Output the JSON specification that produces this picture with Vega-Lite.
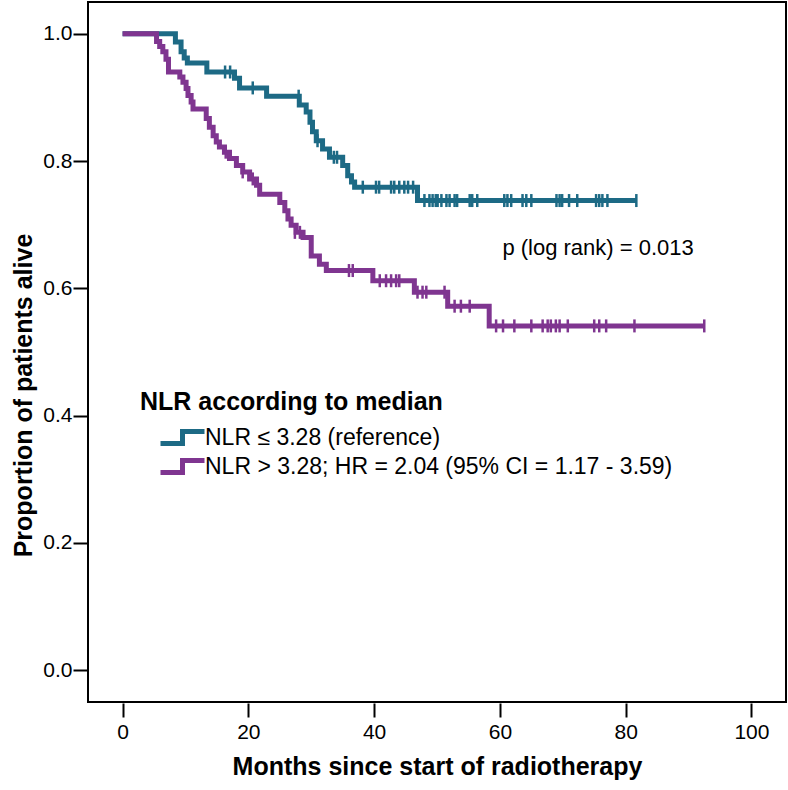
{
  "$schema": "https://vega.github.io/schema/vega-lite/v6.json",
  "width": 698,
  "height": 700,
  "autosize": {"type": "none"},
  "padding": {"left": 88, "top": 2, "right": 2, "bottom": 88},
  "background": "white",
  "config": {
    "font": "Liberation Sans",
    "view": {"stroke": "black", "strokeWidth": 2},
    "axis": {"grid": false, "domain": false, "tickColor": "black", "tickWidth": 2, "labelColor": "black", "titleColor": "black", "labelFont": "Liberation Sans", "titleFont": "Liberation Sans", "labelFontSize": 21, "titleFontSize": 25, "titleFontWeight": "bold"}
  },
  "datasets": {
    "curves": [
      {"group": "NLR ≤ 3.28 (reference)", "month": 0, "surv": 1.0},
      {"group": "NLR ≤ 3.28 (reference)", "month": 8.4, "surv": 0.987},
      {"group": "NLR ≤ 3.28 (reference)", "month": 9.3, "surv": 0.972},
      {"group": "NLR ≤ 3.28 (reference)", "month": 9.8, "surv": 0.962},
      {"group": "NLR ≤ 3.28 (reference)", "month": 10.3, "surv": 0.954},
      {"group": "NLR ≤ 3.28 (reference)", "month": 13.4, "surv": 0.940},
      {"group": "NLR ≤ 3.28 (reference)", "month": 17.8, "surv": 0.930},
      {"group": "NLR ≤ 3.28 (reference)", "month": 18.6, "surv": 0.915},
      {"group": "NLR ≤ 3.28 (reference)", "month": 22.9, "surv": 0.902},
      {"group": "NLR ≤ 3.28 (reference)", "month": 28.1, "surv": 0.888},
      {"group": "NLR ≤ 3.28 (reference)", "month": 29.2, "surv": 0.877},
      {"group": "NLR ≤ 3.28 (reference)", "month": 29.8, "surv": 0.861},
      {"group": "NLR ≤ 3.28 (reference)", "month": 30.2, "surv": 0.846},
      {"group": "NLR ≤ 3.28 (reference)", "month": 30.8, "surv": 0.832},
      {"group": "NLR ≤ 3.28 (reference)", "month": 31.8, "surv": 0.819},
      {"group": "NLR ≤ 3.28 (reference)", "month": 32.9, "surv": 0.806},
      {"group": "NLR ≤ 3.28 (reference)", "month": 35.0, "surv": 0.793},
      {"group": "NLR ≤ 3.28 (reference)", "month": 35.8, "surv": 0.777},
      {"group": "NLR ≤ 3.28 (reference)", "month": 36.4, "surv": 0.767},
      {"group": "NLR ≤ 3.28 (reference)", "month": 36.9, "surv": 0.759},
      {"group": "NLR ≤ 3.28 (reference)", "month": 46.9, "surv": 0.738},
      {"group": "NLR ≤ 3.28 (reference)", "month": 81.7, "surv": 0.738},
      {"group": "NLR > 3.28; HR = 2.04 (95% CI = 1.17 - 3.59)", "month": 0, "surv": 1.0},
      {"group": "NLR > 3.28; HR = 2.04 (95% CI = 1.17 - 3.59)", "month": 5.4, "surv": 0.988},
      {"group": "NLR > 3.28; HR = 2.04 (95% CI = 1.17 - 3.59)", "month": 5.9, "surv": 0.980},
      {"group": "NLR > 3.28; HR = 2.04 (95% CI = 1.17 - 3.59)", "month": 6.4, "surv": 0.972},
      {"group": "NLR > 3.28; HR = 2.04 (95% CI = 1.17 - 3.59)", "month": 6.9, "surv": 0.960},
      {"group": "NLR > 3.28; HR = 2.04 (95% CI = 1.17 - 3.59)", "month": 7.3, "surv": 0.940},
      {"group": "NLR > 3.28; HR = 2.04 (95% CI = 1.17 - 3.59)", "month": 9.1, "surv": 0.932},
      {"group": "NLR > 3.28; HR = 2.04 (95% CI = 1.17 - 3.59)", "month": 9.6, "surv": 0.924},
      {"group": "NLR > 3.28; HR = 2.04 (95% CI = 1.17 - 3.59)", "month": 10.1, "surv": 0.914},
      {"group": "NLR > 3.28; HR = 2.04 (95% CI = 1.17 - 3.59)", "month": 10.4, "surv": 0.903},
      {"group": "NLR > 3.28; HR = 2.04 (95% CI = 1.17 - 3.59)", "month": 10.9, "surv": 0.893},
      {"group": "NLR > 3.28; HR = 2.04 (95% CI = 1.17 - 3.59)", "month": 11.2, "surv": 0.882},
      {"group": "NLR > 3.28; HR = 2.04 (95% CI = 1.17 - 3.59)", "month": 13.3, "surv": 0.867},
      {"group": "NLR > 3.28; HR = 2.04 (95% CI = 1.17 - 3.59)", "month": 13.8, "surv": 0.853},
      {"group": "NLR > 3.28; HR = 2.04 (95% CI = 1.17 - 3.59)", "month": 14.4, "surv": 0.840},
      {"group": "NLR > 3.28; HR = 2.04 (95% CI = 1.17 - 3.59)", "month": 14.9, "surv": 0.830},
      {"group": "NLR > 3.28; HR = 2.04 (95% CI = 1.17 - 3.59)", "month": 15.4, "surv": 0.822},
      {"group": "NLR > 3.28; HR = 2.04 (95% CI = 1.17 - 3.59)", "month": 16.2, "surv": 0.814},
      {"group": "NLR > 3.28; HR = 2.04 (95% CI = 1.17 - 3.59)", "month": 17.0, "surv": 0.804},
      {"group": "NLR > 3.28; HR = 2.04 (95% CI = 1.17 - 3.59)", "month": 18.1, "surv": 0.793},
      {"group": "NLR > 3.28; HR = 2.04 (95% CI = 1.17 - 3.59)", "month": 19.1, "surv": 0.783},
      {"group": "NLR > 3.28; HR = 2.04 (95% CI = 1.17 - 3.59)", "month": 20.2, "surv": 0.772},
      {"group": "NLR > 3.28; HR = 2.04 (95% CI = 1.17 - 3.59)", "month": 21.3, "surv": 0.762},
      {"group": "NLR > 3.28; HR = 2.04 (95% CI = 1.17 - 3.59)", "month": 21.8, "surv": 0.748},
      {"group": "NLR > 3.28; HR = 2.04 (95% CI = 1.17 - 3.59)", "month": 25.0, "surv": 0.735},
      {"group": "NLR > 3.28; HR = 2.04 (95% CI = 1.17 - 3.59)", "month": 25.8, "surv": 0.722},
      {"group": "NLR > 3.28; HR = 2.04 (95% CI = 1.17 - 3.59)", "month": 26.3, "surv": 0.709},
      {"group": "NLR > 3.28; HR = 2.04 (95% CI = 1.17 - 3.59)", "month": 26.8, "surv": 0.699},
      {"group": "NLR > 3.28; HR = 2.04 (95% CI = 1.17 - 3.59)", "month": 27.6, "surv": 0.688},
      {"group": "NLR > 3.28; HR = 2.04 (95% CI = 1.17 - 3.59)", "month": 28.7, "surv": 0.680},
      {"group": "NLR > 3.28; HR = 2.04 (95% CI = 1.17 - 3.59)", "month": 30.0, "surv": 0.651},
      {"group": "NLR > 3.28; HR = 2.04 (95% CI = 1.17 - 3.59)", "month": 31.3, "surv": 0.638},
      {"group": "NLR > 3.28; HR = 2.04 (95% CI = 1.17 - 3.59)", "month": 32.4, "surv": 0.628},
      {"group": "NLR > 3.28; HR = 2.04 (95% CI = 1.17 - 3.59)", "month": 39.8, "surv": 0.612},
      {"group": "NLR > 3.28; HR = 2.04 (95% CI = 1.17 - 3.59)", "month": 46.4, "surv": 0.594},
      {"group": "NLR > 3.28; HR = 2.04 (95% CI = 1.17 - 3.59)", "month": 51.7, "surv": 0.572},
      {"group": "NLR > 3.28; HR = 2.04 (95% CI = 1.17 - 3.59)", "month": 58.3, "surv": 0.541},
      {"group": "NLR > 3.28; HR = 2.04 (95% CI = 1.17 - 3.59)", "month": 92.5, "surv": 0.541}
    ],
    "censored": [
      {"group": "NLR ≤ 3.28 (reference)", "month": 16.3, "surv": 0.940},
      {"group": "NLR ≤ 3.28 (reference)", "month": 17.1, "surv": 0.940},
      {"group": "NLR ≤ 3.28 (reference)", "month": 20.7, "surv": 0.915},
      {"group": "NLR ≤ 3.28 (reference)", "month": 28.0, "surv": 0.902},
      {"group": "NLR ≤ 3.28 (reference)", "month": 31.0, "surv": 0.832},
      {"group": "NLR ≤ 3.28 (reference)", "month": 33.6, "surv": 0.806},
      {"group": "NLR ≤ 3.28 (reference)", "month": 34.1, "surv": 0.806},
      {"group": "NLR ≤ 3.28 (reference)", "month": 38.2, "surv": 0.759},
      {"group": "NLR ≤ 3.28 (reference)", "month": 40.3, "surv": 0.759},
      {"group": "NLR ≤ 3.28 (reference)", "month": 40.8, "surv": 0.759},
      {"group": "NLR ≤ 3.28 (reference)", "month": 42.7, "surv": 0.759},
      {"group": "NLR ≤ 3.28 (reference)", "month": 43.2, "surv": 0.759},
      {"group": "NLR ≤ 3.28 (reference)", "month": 44.0, "surv": 0.759},
      {"group": "NLR ≤ 3.28 (reference)", "month": 44.8, "surv": 0.759},
      {"group": "NLR ≤ 3.28 (reference)", "month": 45.4, "surv": 0.759},
      {"group": "NLR ≤ 3.28 (reference)", "month": 46.2, "surv": 0.759},
      {"group": "NLR ≤ 3.28 (reference)", "month": 48.0, "surv": 0.738},
      {"group": "NLR ≤ 3.28 (reference)", "month": 48.8, "surv": 0.738},
      {"group": "NLR ≤ 3.28 (reference)", "month": 49.3, "surv": 0.738},
      {"group": "NLR ≤ 3.28 (reference)", "month": 49.8, "surv": 0.738},
      {"group": "NLR ≤ 3.28 (reference)", "month": 50.1, "surv": 0.738},
      {"group": "NLR ≤ 3.28 (reference)", "month": 50.7, "surv": 0.738},
      {"group": "NLR ≤ 3.28 (reference)", "month": 51.5, "surv": 0.738},
      {"group": "NLR ≤ 3.28 (reference)", "month": 52.0, "surv": 0.738},
      {"group": "NLR ≤ 3.28 (reference)", "month": 52.8, "surv": 0.738},
      {"group": "NLR ≤ 3.28 (reference)", "month": 53.2, "surv": 0.738},
      {"group": "NLR ≤ 3.28 (reference)", "month": 55.2, "surv": 0.738},
      {"group": "NLR ≤ 3.28 (reference)", "month": 55.6, "surv": 0.738},
      {"group": "NLR ≤ 3.28 (reference)", "month": 56.4, "surv": 0.738},
      {"group": "NLR ≤ 3.28 (reference)", "month": 60.7, "surv": 0.738},
      {"group": "NLR ≤ 3.28 (reference)", "month": 61.2, "surv": 0.738},
      {"group": "NLR ≤ 3.28 (reference)", "month": 61.8, "surv": 0.738},
      {"group": "NLR ≤ 3.28 (reference)", "month": 63.6, "surv": 0.738},
      {"group": "NLR ≤ 3.28 (reference)", "month": 64.2, "surv": 0.738},
      {"group": "NLR ≤ 3.28 (reference)", "month": 65.0, "surv": 0.738},
      {"group": "NLR ≤ 3.28 (reference)", "month": 69.0, "surv": 0.738},
      {"group": "NLR ≤ 3.28 (reference)", "month": 69.5, "surv": 0.738},
      {"group": "NLR ≤ 3.28 (reference)", "month": 69.9, "surv": 0.738},
      {"group": "NLR ≤ 3.28 (reference)", "month": 71.0, "surv": 0.738},
      {"group": "NLR ≤ 3.28 (reference)", "month": 72.3, "surv": 0.738},
      {"group": "NLR ≤ 3.28 (reference)", "month": 75.3, "surv": 0.738},
      {"group": "NLR ≤ 3.28 (reference)", "month": 75.8, "surv": 0.738},
      {"group": "NLR ≤ 3.28 (reference)", "month": 76.3, "surv": 0.738},
      {"group": "NLR ≤ 3.28 (reference)", "month": 77.1, "surv": 0.738},
      {"group": "NLR ≤ 3.28 (reference)", "month": 81.7, "surv": 0.738},
      {"group": "NLR > 3.28; HR = 2.04 (95% CI = 1.17 - 3.59)", "month": 16.4, "surv": 0.814},
      {"group": "NLR > 3.28; HR = 2.04 (95% CI = 1.17 - 3.59)", "month": 19.1, "surv": 0.783},
      {"group": "NLR > 3.28; HR = 2.04 (95% CI = 1.17 - 3.59)", "month": 20.7, "surv": 0.772},
      {"group": "NLR > 3.28; HR = 2.04 (95% CI = 1.17 - 3.59)", "month": 27.4, "surv": 0.688},
      {"group": "NLR > 3.28; HR = 2.04 (95% CI = 1.17 - 3.59)", "month": 28.2, "surv": 0.688},
      {"group": "NLR > 3.28; HR = 2.04 (95% CI = 1.17 - 3.59)", "month": 36.0, "surv": 0.628},
      {"group": "NLR > 3.28; HR = 2.04 (95% CI = 1.17 - 3.59)", "month": 36.6, "surv": 0.628},
      {"group": "NLR > 3.28; HR = 2.04 (95% CI = 1.17 - 3.59)", "month": 40.9, "surv": 0.612},
      {"group": "NLR > 3.28; HR = 2.04 (95% CI = 1.17 - 3.59)", "month": 41.9, "surv": 0.612},
      {"group": "NLR > 3.28; HR = 2.04 (95% CI = 1.17 - 3.59)", "month": 42.7, "surv": 0.612},
      {"group": "NLR > 3.28; HR = 2.04 (95% CI = 1.17 - 3.59)", "month": 43.5, "surv": 0.612},
      {"group": "NLR > 3.28; HR = 2.04 (95% CI = 1.17 - 3.59)", "month": 44.0, "surv": 0.612},
      {"group": "NLR > 3.28; HR = 2.04 (95% CI = 1.17 - 3.59)", "month": 46.9, "surv": 0.594},
      {"group": "NLR > 3.28; HR = 2.04 (95% CI = 1.17 - 3.59)", "month": 47.7, "surv": 0.594},
      {"group": "NLR > 3.28; HR = 2.04 (95% CI = 1.17 - 3.59)", "month": 48.3, "surv": 0.594},
      {"group": "NLR > 3.28; HR = 2.04 (95% CI = 1.17 - 3.59)", "month": 51.2, "surv": 0.594},
      {"group": "NLR > 3.28; HR = 2.04 (95% CI = 1.17 - 3.59)", "month": 52.8, "surv": 0.572},
      {"group": "NLR > 3.28; HR = 2.04 (95% CI = 1.17 - 3.59)", "month": 53.8, "surv": 0.572},
      {"group": "NLR > 3.28; HR = 2.04 (95% CI = 1.17 - 3.59)", "month": 55.2, "surv": 0.572},
      {"group": "NLR > 3.28; HR = 2.04 (95% CI = 1.17 - 3.59)", "month": 59.4, "surv": 0.541},
      {"group": "NLR > 3.28; HR = 2.04 (95% CI = 1.17 - 3.59)", "month": 60.5, "surv": 0.541},
      {"group": "NLR > 3.28; HR = 2.04 (95% CI = 1.17 - 3.59)", "month": 62.3, "surv": 0.541},
      {"group": "NLR > 3.28; HR = 2.04 (95% CI = 1.17 - 3.59)", "month": 65.0, "surv": 0.541},
      {"group": "NLR > 3.28; HR = 2.04 (95% CI = 1.17 - 3.59)", "month": 66.8, "surv": 0.541},
      {"group": "NLR > 3.28; HR = 2.04 (95% CI = 1.17 - 3.59)", "month": 67.6, "surv": 0.541},
      {"group": "NLR > 3.28; HR = 2.04 (95% CI = 1.17 - 3.59)", "month": 68.1, "surv": 0.541},
      {"group": "NLR > 3.28; HR = 2.04 (95% CI = 1.17 - 3.59)", "month": 68.9, "surv": 0.541},
      {"group": "NLR > 3.28; HR = 2.04 (95% CI = 1.17 - 3.59)", "month": 69.5, "surv": 0.541},
      {"group": "NLR > 3.28; HR = 2.04 (95% CI = 1.17 - 3.59)", "month": 70.8, "surv": 0.541},
      {"group": "NLR > 3.28; HR = 2.04 (95% CI = 1.17 - 3.59)", "month": 75.0, "surv": 0.541},
      {"group": "NLR > 3.28; HR = 2.04 (95% CI = 1.17 - 3.59)", "month": 75.8, "surv": 0.541},
      {"group": "NLR > 3.28; HR = 2.04 (95% CI = 1.17 - 3.59)", "month": 76.9, "surv": 0.541},
      {"group": "NLR > 3.28; HR = 2.04 (95% CI = 1.17 - 3.59)", "month": 81.4, "surv": 0.541},
      {"group": "NLR > 3.28; HR = 2.04 (95% CI = 1.17 - 3.59)", "month": 92.5, "surv": 0.541}
    ],
    "annot": [
      {"month": 60.4, "surv": 0.664, "label": "p (log rank) = 0.013"}
    ]
  },
  "layer": [
    {
      "data": {"name": "curves"},
      "mark": {"type": "line", "interpolate": "step-after", "strokeWidth": 5, "strokeCap": "butt", "strokeJoin": "miter"},
      "encoding": {
        "x": {"field": "month", "type": "quantitative", "scale": {"domain": [-5.5, 105.5], "nice": false, "zero": false},
          "axis": {"values": [0, 20, 40, 60, 80, 100], "title": "Months since start of radiotherapy", "tickSize": 14, "offset": 1, "labelPadding": 4, "titlePadding": 12}},
        "y": {"field": "surv", "type": "quantitative", "scale": {"domain": [-0.05, 1.05], "nice": false, "zero": false},
          "axis": {"values": [0, 0.2, 0.4, 0.6, 0.8, 1.0], "format": ".1f", "title": "Proportion of patients alive", "titleY": 393, "tickSize": 15, "labelPadding": 1, "titlePadding": 6}},
        "color": {"field": "group", "type": "nominal",
          "scale": {"domain": ["NLR ≤ 3.28 (reference)", "NLR > 3.28; HR = 2.04 (95% CI = 1.17 - 3.59)"], "range": ["#1D6A85", "#7F3590"]},
          "legend": {"title": "NLR according to median", "orient": "none", "legendX": 52, "legendY": 388,
            "titleFontSize": 25, "titleFontWeight": "bold", "titleColor": "black", "titleFont": "Liberation Sans", "titleLimit": 0,
            "labelFontSize": 23, "labelColor": "black", "labelFont": "Liberation Sans", "labelLimit": 0, "labelOffset": 10,
            "symbolType": "M-2.2,0.6H0V-0.6H2.2", "symbolSize": 400, "symbolStrokeWidth": 5, "symbolOffset": 30,
            "rowPadding": -7, "titlePadding": 10, "padding": 0}}
      }
    },
    {
      "data": {"name": "censored"},
      "mark": {"type": "point", "shape": "M0,-1V1", "size": 169, "strokeWidth": 2.5, "filled": false, "opacity": 1},
      "encoding": {
        "x": {"field": "month", "type": "quantitative"},
        "y": {"field": "surv", "type": "quantitative"},
        "color": {"field": "group", "type": "nominal"}
      }
    },
    {
      "data": {"name": "annot"},
      "mark": {"type": "text", "align": "left", "baseline": "middle", "fontSize": 22, "color": "black", "font": "Liberation Sans"},
      "encoding": {
        "x": {"field": "month", "type": "quantitative"},
        "y": {"field": "surv", "type": "quantitative"},
        "text": {"field": "label", "type": "nominal"}
      }
    }
  ]
}
